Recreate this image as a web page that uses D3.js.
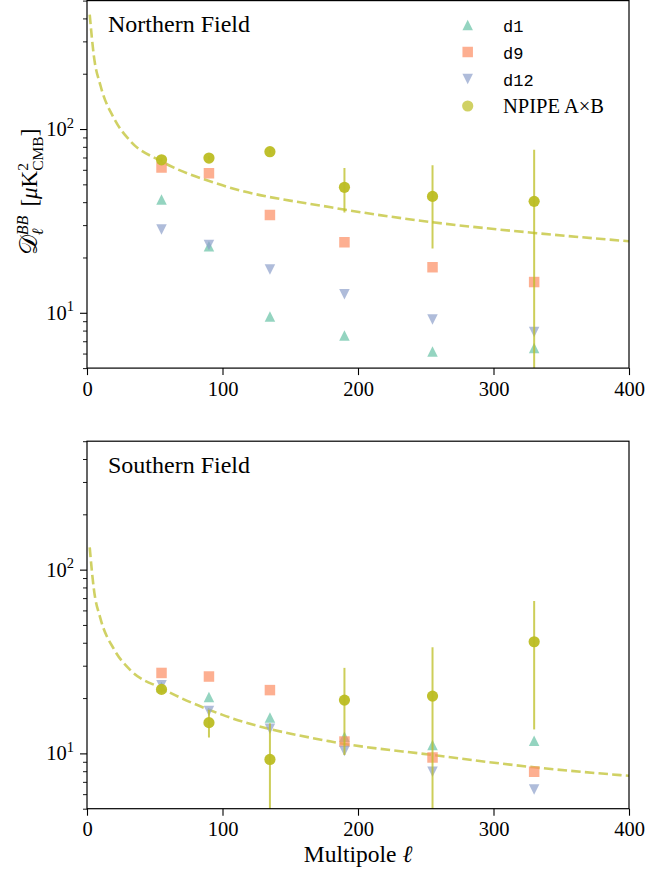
<meta charset="utf-8">
<head>
<style>
  body { margin: 0; background: #fff; }
</style>
</head>
<body>
<div id="chartId"></div>
</body>
<script src="https://d3js.org/d3.v7.min.js"></script>
<script>

// Data
var ells = [55, 90, 135, 190, 255, 330];

var northD1 = [41.3, 23.0, 9.55, 7.53, 6.16, 6.43];
var northD9 = [61.8, 57.4, 34.1, 24.2, 17.7, 14.7];
var northD12 = [28.4, 23.4, 17.2, 12.6, 9.2, 7.85];
var northNpipe = [68.0, 69.5, 75.3, 48.2, 43.0, 40.4];
var northNpipeErr = [1.5, 1.5, 1.5, 13.1, 20.6, 36.8];

var southD1 = [23.0, 20.3, 15.7, 12.3, 11.1, 11.7];
var southD9 = [27.4, 26.2, 22.1, 11.6, 9.5, 7.94];
var southD12 = [23.5, 17.0, 13.6, 10.3, 7.94, 6.37];
var southNpipe = [22.3, 14.7, 9.27, 19.5, 20.5, 40.5];
var southNpipeErr = [1.0, 2.5, 5.3, 9.7, 17.3, 27.0];

// dashed model curve
var modelEll = [2, 5, 10, 20, 32, 55, 100, 180, 255, 330, 400];
var northModel = [420, 252, 172, 114, 86, 66.7, 49.4, 37.5, 31.1, 27.2, 24.5];
var southModel = [132, 79, 54, 36.8, 28.4, 22.6, 16.2, 11.6, 9.8, 8.4, 7.55];

var xTicks = [0, 100, 200, 300, 400];
var yMajor = [10, 100];
var yMinor = [5, 6, 7, 8, 9, 20, 30, 40, 50, 60, 70, 80, 90, 200, 300, 400, 500];

var seriesNames = ["d1", "d9", "d12", "NPIPE A\u00d7B"];
var colors = ["#66c2a5", "#fc8d62", "#8da0cb", "#bcbd22"];

var SERIF = "'Liberation Serif', 'Times New Roman', 'DejaVu Serif', serif";
var MONO = "'Liberation Mono', 'DejaVu Sans Mono', monospace";

var W = 668, H = 870;
var left = 87, right = 629;
var panelH = 367.5;

var svg = d3.select("#chartId").append("svg")
	.attr("width", W).attr("height", H)
	.attr("font-family", SERIF);

var x = d3.scaleLinear().domain([0, 400]).range([left, right]);

function markerPath(kind, s) {
	var h = s / 2;
	if (kind === "up") return "M0," + (-h) + "L" + h + "," + h + "L" + (-h) + "," + h + "Z";
	if (kind === "down") return "M0," + h + "L" + h + "," + (-h) + "L" + (-h) + "," + (-h) + "Z";
	if (kind === "square") return "M" + (-h) + "," + (-h) + "h" + s + "v" + s + "h" + (-s) + "Z";
	return null;
}

function drawPanel(top, name, d1, d9, d12, npipe, npipeErr, model, idx) {
	var y = d3.scaleLog().domain([5, 500]).range([top + panelH, top]);
	var g = svg.append("g");

	g.append("clipPath").attr("id", "clip" + idx)
		.append("rect").attr("x", left).attr("y", top)
		.attr("width", right - left).attr("height", panelH);

	var plot = g.append("g").attr("clip-path", "url(#clip" + idx + ")");

	// model curve
	var line = d3.line()
		.x(function(d, i) { return x(modelEll[i]); })
		.y(function(d) { return y(d); })
		.curve(d3.curveMonotoneX);
	plot.append("path")
		.datum(model)
		.attr("d", line)
		.attr("fill", "none")
		.attr("stroke", colors[3])
		.attr("stroke-opacity", 0.7)
		.attr("stroke-width", 2.6)
		.attr("stroke-dasharray", "9.5,4.2");

	var sets = [
		{ vals: d1, kind: "up", c: colors[0] },
		{ vals: d9, kind: "square", c: colors[1] },
		{ vals: d12, kind: "down", c: colors[2] }
	];
	sets.forEach(function(s) {
		plot.selectAll(null)
			.data(s.vals)
			.enter()
			.append("path")
			.attr("d", markerPath(s.kind, 10.5))
			.attr("transform", function(d, i) { return "translate(" + x(ells[i]) + "," + y(d) + ")"; })
			.attr("fill", s.c)
			.attr("fill-opacity", 0.7);
	});

	// error bars
	plot.selectAll(null)
		.data(npipe)
		.enter()
		.append("line")
		.attr("x1", function(d, i) { return x(ells[i]); })
		.attr("x2", function(d, i) { return x(ells[i]); })
		.attr("y1", function(d, i) { var lo = d - npipeErr[i]; return lo > 0 ? y(lo) : top + panelH + 10; })
		.attr("y2", function(d, i) { return y(d + npipeErr[i]); })
		.attr("stroke", colors[3])
		.attr("stroke-opacity", 0.75)
		.attr("stroke-width", 2);

	plot.selectAll(null)
		.data(npipe)
		.enter()
		.append("circle")
		.attr("cx", function(d, i) { return x(ells[i]); })
		.attr("cy", function(d) { return y(d); })
		.attr("r", 5.6)
		.attr("fill", colors[3])
		.attr("fill-opacity", 0.95);

	// axes
	var xAxis = d3.axisBottom(x).tickValues(xTicks).tickSize(7).tickPadding(6)
		.tickFormat(d3.format("d"));
	var gx = g.append("g").attr("transform", "translate(0," + (top + panelH) + ")").call(xAxis);
	gx.attr("font-family", SERIF).attr("font-size", 20.5);
	gx.select(".domain").remove();
	gx.selectAll("text").attr("font-family", SERIF).attr("font-size", 20.5).attr("fill", "#000");
	gx.selectAll("line").attr("stroke-width", 1.1);

	var yAxis = d3.axisLeft(y).tickValues(yMajor).tickSize(7).tickFormat("");
	var gy = g.append("g").attr("transform", "translate(" + left + ",0)").call(yAxis);
	gy.select(".domain").remove();
	gy.selectAll("line").attr("stroke-width", 1.1);

	var yAxisMinor = d3.axisLeft(y).tickValues(yMinor).tickSize(4).tickFormat("");
	var gym = g.append("g").attr("transform", "translate(" + left + ",0)").call(yAxisMinor);
	gym.select(".domain").remove();
	gym.selectAll("line").attr("stroke-width", 0.9);

	yMajor.forEach(function(v) {
		var t = g.append("text")
			.attr("x", 74).attr("y", y(v) + 7)
			.attr("text-anchor", "end")
			.attr("font-family", SERIF)
			.attr("font-size", 20.5);
		t.append("tspan").text("10");
		t.append("tspan").attr("dy", -8.5).attr("font-size", 14.5).text(Math.round(Math.log10(v)));
	});

	g.append("rect")
		.attr("x", left).attr("y", top)
		.attr("width", right - left).attr("height", panelH)
		.attr("fill", "none").attr("stroke", "#000").attr("stroke-width", 1.2);

	g.append("text")
		.attr("x", 108).attr("y", top + 31.5)
		.attr("font-family", SERIF)
		.attr("font-size", 24)
		.text(name);
}

drawPanel(0.6, "Northern Field", northD1, northD9, northD12, northNpipe, northNpipeErr, northModel, 0);
drawPanel(441.2, "Southern Field", southD1, southD9, southD12, southNpipe, southNpipeErr, southModel, 1);

// legend (top panel)
var legend = svg.append("g");
var kinds = ["up", "square", "down", "circle"];
var rowY = [25, 52, 79, 106];
seriesNames.forEach(function(n, i) {
	if (kinds[i] === "circle") {
		legend.append("circle").attr("cx", 467.7).attr("cy", rowY[i]).attr("r", 5.6)
			.attr("fill", colors[i]).attr("fill-opacity", 0.7);
	} else {
		legend.append("path").attr("d", markerPath(kinds[i], 10.5))
			.attr("transform", "translate(467.7," + rowY[i] + ")")
			.attr("fill", colors[i]).attr("fill-opacity", 0.7);
	}
	var t = legend.append("text")
		.attr("x", 503).attr("y", rowY[i] + 6.5)
		.text(n);
	if (i < 3) t.attr("font-family", MONO).attr("font-size", 17);
	else t.attr("font-family", SERIF).attr("font-size", 20.5);
});

// x label
svg.append("text")
	.attr("x", (left + right) / 2).attr("y", 862)
	.attr("text-anchor", "middle")
	.attr("font-family", SERIF)
	.attr("font-size", 23.5)
	.html('Multipole <tspan font-style="italic">\u2113</tspan>');

// y label, built piece by piece inside a rotated group
var yl = svg.append("g").attr("font-family", SERIF);
var pieces = [
	{ t: "\ud835\udc9f", size: 25, dy: 0 },
	{ t: "BB", size: 16, dy: -9, italic: true },
	{ t: "\u2113", size: 16, dy: 6, italic: true, stack: true },
	{ t: "\u2009\u2009[", size: 23, dy: 0 },
	{ t: "\u03bc", size: 23, dy: 0, italic: true },
	{ t: "K", size: 23, dy: 0 },
	{ t: "2", size: 15.5, dy: -9.5 },
	{ t: "CMB", size: 15.5, dy: 6, stack: true },
	{ t: "]", size: 23, dy: 0 }
];
var cx = 0, prevStart = 0, prevW = 0;
pieces.forEach(function(p) {
	var start = p.stack ? prevStart : cx;
	var el = yl.append("text")
		.attr("x", start).attr("y", p.dy)
		.attr("font-size", p.size)
		.attr("font-family", SERIF)
		.attr("font-style", p.italic ? "italic" : null)
		.text(p.t);
	var w = el.node().getComputedTextLength();
	if (p.stack) {
		cx = prevStart + Math.max(prevW, w);
	} else {
		prevStart = start;
		prevW = w;
		cx = start + w;
	}
});
yl.attr("transform", "translate(37,192) rotate(-90) translate(" + (-cx / 2) + ",0)");

</script>
